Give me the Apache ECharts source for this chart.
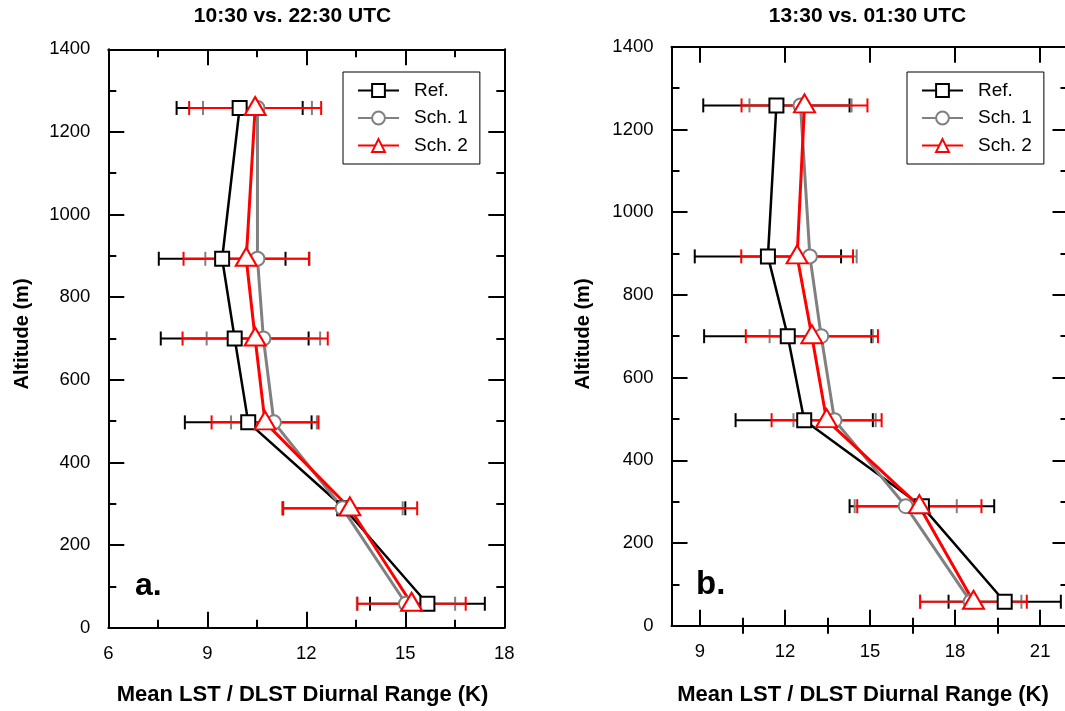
<!DOCTYPE html>
<html><head><meta charset="utf-8">
<script src="https://cdn.jsdelivr.net/npm/echarts@6/dist/echarts.min.js"></script>
<style>html,body{margin:0;padding:0;background:#fff}#c{width:1065px;height:711px}</style>
</head><body><div id="c"></div>
<script>
// ---- data ----
const altitudes = [58, 289, 497, 700, 893, 1258];
// panel a (10:30 vs. 22:30 UTC)
const refMeanA  = [15.67, 13.15, 10.24, 9.83, 9.45, 9.98];
const refErrA   = [1.74, 1.85, 1.92, 2.24, 1.92, 1.91];
const sch1MeanA = [15.02, 13.10, 11.02, 10.70, 10.52, 10.52];
const sch1ErrA  = [1.49, 1.82, 1.30, 1.72, 1.58, 1.65];
const sch2MeanA = [15.19, 13.32, 10.75, 10.45, 10.18, 10.45];
const sch2ErrA  = [1.64, 2.04, 1.62, 2.20, 1.90, 2.00];
// panel b (13:30 vs. 01:30 UTC)
const refMeanB  = [19.75, 16.83, 12.68, 12.10, 11.40, 11.70];
const refErrB   = [1.98, 2.55, 2.42, 2.95, 2.58, 2.58];
const sch1MeanB = [18.55, 16.26, 13.75, 13.28, 12.88, 12.55];
const sch1ErrB  = [1.79, 1.80, 1.45, 1.82, 1.65, 1.80];
const sch2MeanB = [18.65, 16.74, 13.47, 12.95, 12.43, 12.69];
const sch2ErrB  = [1.88, 2.19, 1.94, 2.33, 1.97, 2.22];
// ticks
const xTicksB = [9, 12, 15, 18, 21];
const xMinorB = [10.5, 13.5, 16.5, 19.5];
const seriesNames = ['Ref.', 'Sch. 1', 'Sch. 2'];
const titles = ['10:30 vs. 22:30 UTC', '13:30 vs. 01:30 UTC'];
const xTitle = 'Mean LST / DLST Diurnal Range (K)';
const yTitle = 'Altitude (m)';

const FONT = "'Liberation Sans', Arial, Helvetica, sans-serif";
const colors = ['#000000', '#808080', '#ff0000'];
const symbols = ['emptyRect', 'emptyCircle', 'emptyTriangle'];
const symSizes = [14, 14, [21, 18]];
const symOffsets = [[0,0],[0,0],[0,-2]];
const lineWidths = [2.5, 3, 3];

const chart = echarts.init(document.getElementById('c'), null, {renderer: 'canvas'});

const grids = [
  {left: 108.3, top: 49.3, width: 396, height: 578.4, outerBoundsMode: 'none', containLabel: false},
  {left: 671.5, top: 46.7, width: 397, height: 579, outerBoundsMode: 'none', containLabel: false}
];

const axisLineStyle = {color: '#000', width: 2};
const tickStyle = {color: '#000', width: 2};
const plain = function (v) { return String(v); };

function xMain(grid, pos, showLabel, min, max, extra) {
  return Object.assign({
    type: 'value', gridIndex: grid, position: pos, min: min, max: max,
    axisLine: {show: true, onZero: false, lineStyle: axisLineStyle},
    axisTick: {show: true, inside: true, length: 16, lineStyle: tickStyle},
    axisLabel: {show: showLabel, fontSize: 18.5, color: '#000', fontFamily: FONT, margin: 17, formatter: plain},
    splitLine: {show: false}
  }, extra);
}
function yAxis(grid, pos, showLabel) {
  return {
    type: 'value', gridIndex: grid, position: pos, min: 0, max: 1400, interval: 200,
    axisLine: {show: true, onZero: false, lineStyle: axisLineStyle},
    axisTick: {show: true, inside: true, length: 16, lineStyle: tickStyle},
    minorTick: {show: true, splitNumber: 2, length: 8, lineStyle: tickStyle},
    axisLabel: {show: showLabel, fontSize: 18.5, color: '#000', fontFamily: FONT, margin: 18, formatter: plain},
    splitLine: {show: false}, minorSplitLine: {show: false}
  };
}

const xAxes = [
  // panel a
  xMain(0, 'bottom', true, 6, 18, {interval: 3, minorTick: {show: true, splitNumber: 2, length: 8, lineStyle: tickStyle}}),
  xMain(0, 'top', false, 6, 18, {interval: 3, minorTick: {show: true, splitNumber: 2, length: 8, lineStyle: tickStyle}}),
  // panel b
  xMain(1, 'bottom', true, 8, 22, {
    axisTick: {show: true, inside: true, length: 16, lineStyle: tickStyle, customValues: xTicksB},
    axisLabel: {show: true, fontSize: 18.5, color: '#000', fontFamily: FONT, margin: 17, customValues: xTicksB, formatter: plain}
  }),
  xMain(1, 'bottom', false, 8, 22, {
    axisLine: {show: false},
    axisTick: {show: true, inside: true, length: 8, lineStyle: tickStyle, customValues: xMinorB}
  }),
  xMain(1, 'top', false, 8, 22, {
    axisTick: {show: true, inside: true, length: 16, lineStyle: tickStyle, customValues: xTicksB},
    axisLabel: {show: false, customValues: xTicksB}
  }),
  xMain(1, 'top', false, 8, 22, {
    axisLine: {show: false},
    axisTick: {show: true, inside: true, length: 8, lineStyle: tickStyle, customValues: xMinorB}
  })
];
const yAxes = [yAxis(0, 'left', true), yAxis(0, 'right', false), yAxis(1, 'left', true), yAxis(1, 'right', false)];

function errRender(color) {
  return function (params, api) {
    const lo = api.coord([api.value(0), api.value(2)]);
    const hi = api.coord([api.value(1), api.value(2)]);
    const h = 7;
    const style = {stroke: color, lineWidth: 2, fill: null};
    return {type: 'group', children: [
      {type: 'line', shape: {x1: lo[0], y1: lo[1], x2: hi[0], y2: hi[1]}, style: style},
      {type: 'line', shape: {x1: lo[0], y1: lo[1] - h, x2: lo[0], y2: lo[1] + h}, style: style},
      {type: 'line', shape: {x1: hi[0], y1: hi[1] - h, x2: hi[0], y2: hi[1] + h}, style: style}
    ]};
  };
}

const panels = [
  {xIdx: 0, yIdx: 0, means: [refMeanA, sch1MeanA, sch2MeanA], errs: [refErrA, sch1ErrA, sch2ErrA]},
  {xIdx: 2, yIdx: 2, means: [refMeanB, sch1MeanB, sch2MeanB], errs: [refErrB, sch1ErrB, sch2ErrB]}
];

const series = [];
panels.forEach(function (p, pi) {
  for (let s = 0; s < 3; s++) {
    series.push({
      type: 'custom', name: 'err' + pi + s, xAxisIndex: p.xIdx, yAxisIndex: p.yIdx, z: 1,
      renderItem: errRender(colors[s]), silent: true, clip: false,
      encode: {x: [0, 1], y: 2},
      data: altitudes.map(function (a, i) { return [p.means[s][i] - p.errs[s][i], p.means[s][i] + p.errs[s][i], a]; })
    });
  }
  for (let s = 0; s < 3; s++) {
    series.push({
      type: 'line', name: seriesNames[s], xAxisIndex: p.xIdx, yAxisIndex: p.yIdx, z: 3,
      data: altitudes.map(function (a, i) { return [p.means[s][i], a]; }),
      symbol: symbols[s], symbolSize: symSizes[s], symbolOffset: symOffsets[s],
      showAllSymbol: true,
      lineStyle: {color: colors[s], width: lineWidths[s]},
      itemStyle: {color: colors[s], borderWidth: s === 0 ? 2.2 : 2.5},
      emphasis: {disabled: true}
    });
  }
});

function legend(left) {
  return {
    left: left, top: 72, orient: 'vertical', data: seriesNames, selectedMode: false,
    itemWidth: 41, itemHeight: 16, itemGap: 8.5, padding: [9, 12, 9, 14],
    borderColor: '#000', borderWidth: 1, backgroundColor: '#fff',
    textStyle: {fontSize: 19, color: '#000', fontFamily: FONT, padding: [0, 0, 0, 10]}
  };
}

function txt(x, y, text, size, bold, rot, align) {
  return {type: 'text', x: x, y: y, rotation: rot || 0, z: 10,
    style: {text: text, fontSize: size, fontWeight: bold ? 'bold' : 'normal', fontFamily: FONT,
      fill: '#000', textAlign: align || 'center', textVerticalAlign: 'middle'}};
}

chart.setOption({
  animation: false,
  backgroundColor: '#fff',
  grid: grids,
  xAxis: xAxes,
  yAxis: yAxes,
  legend: [legend(343), legend(907)],
  series: series,
  graphic: [
    txt(292.5, 16, titles[0], 21, true),
    txt(867.5, 16, titles[1], 21, true),
    txt(302.5, 695, xTitle, 22, true),
    txt(863, 695, xTitle, 22, true),
    txt(22, 334, yTitle, 20, true, Math.PI / 2),
    txt(583, 334, yTitle, 20, true, Math.PI / 2),
    txt(135, 586, 'a.', 32, true, 0, 'left'),
    txt(696, 585, 'b.', 33, true, 0, 'left')
  ]
});
</script></body></html>
